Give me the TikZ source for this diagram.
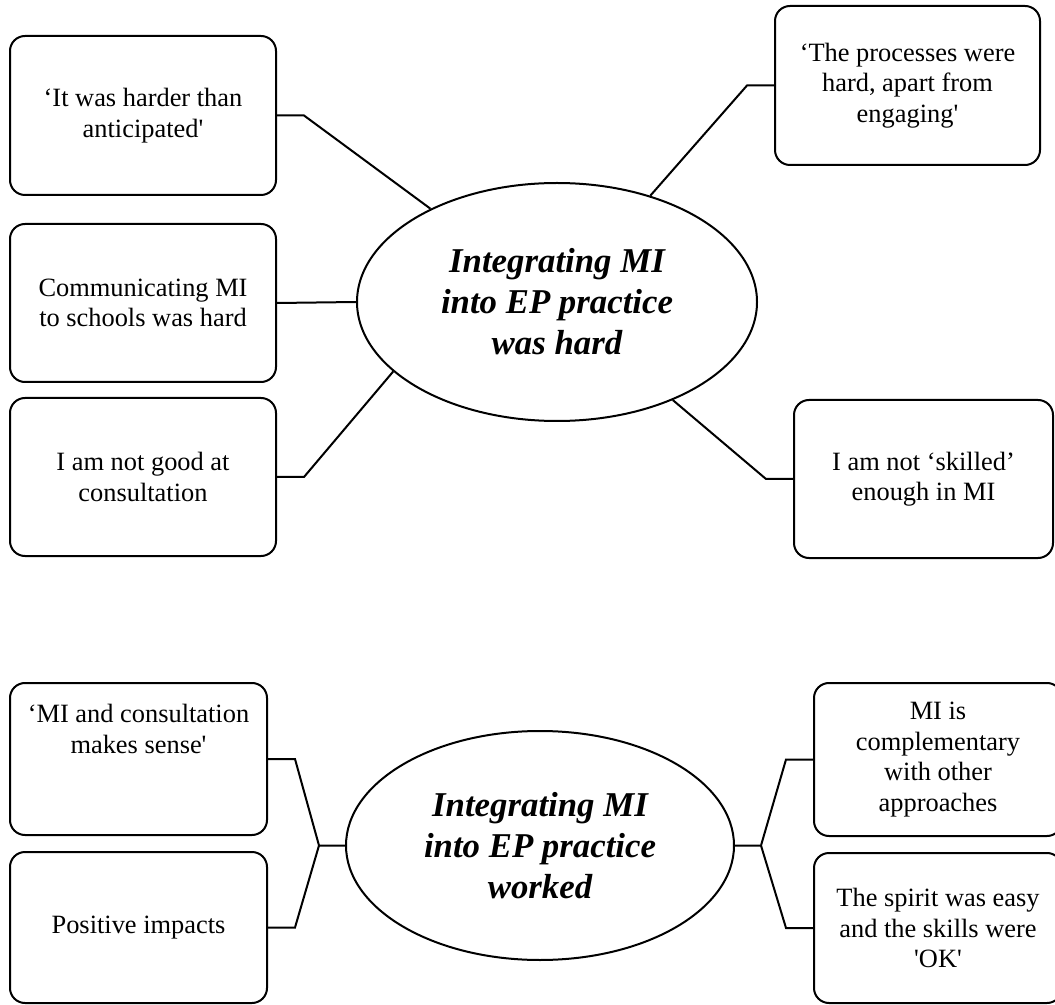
\documentclass[tikz,border=0pt]{standalone}
\usepackage{fontspec}
\setmainfont{Liberation Serif}[Ligatures=TeXOff]
\usepackage{tikz}
\usetikzlibrary{shapes.geometric,calc}

\begin{document}
\begin{tikzpicture}[x=0.5pt,y=-0.5pt,line width=1pt,
	subbox/.style={draw,rounded corners=7.5pt,inner sep=0pt,align=center,minimum width=133pt,minimum height=79pt,font=\fontsize{13.2}{15.2}\selectfont},
	theme/.style={draw,ellipse,inner sep=0pt,align=center,font=\fontsize{17.4}{20.5}\selectfont\bfseries\itshape}]
	\useasboundingbox (0,0) rectangle (1055,1005);
	
	\node[theme,minimum width=200pt,minimum height=119pt] (hard) at (557,302) {Integrating MI\\ into EP practice\\ was hard};
	\node[subbox,minimum height=79.5pt] (b1) at (143,115.5) {‘It was harder than\\ anticipated'};
	\node[subbox] (b2) at (143,303) {Communicating MI\\ to schools was hard};
	\node[subbox] (b3) at (143,477) {I am not good at\\ consultation};
	\node[subbox,minimum width=132.5pt,minimum height=79.5pt] (b4) at (907.5,85.5) {‘The processes were\\ hard, apart from\\ engaging'};
	\node[subbox,minimum width=129.5pt] (b5) at (923.5,479) {I am not ‘skilled’\\ enough in MI};
	
	\draw (b1.east) -- ++(27,0) -- (hard);
	\draw (b2.east) -- (hard.west);
	\draw (b3.east) -- ++(27,0) -- (hard.203);
	\draw (b4.west) -- ++(-27,0) -- (hard);
	\draw (b5.west) -- ++(-27,0) -- (hard);
	
	\node[theme,minimum width=194pt,minimum height=114.5pt] (work) at (540,845.5) {Integrating MI\\ into EP practice\\ worked};
	\node[subbox,minimum width=128.5pt,minimum height=76pt] (b6) at (138.5,759) {};
	\node[align=center,inner sep=0pt,font=\fontsize{13.2}{15.2}\selectfont] (t6) at (138.5,729) {‘MI and consultation\\ makes sense'};
	\node[subbox,minimum width=128.5pt,minimum height=75.5pt] (b7) at (138.5,927.5) {Positive impacts};
	\node[subbox,minimum width=124pt,minimum height=76.5pt] (b8) at (938,759.5) {MI is\\ complementary\\ with other\\ approaches};
	\node[subbox,minimum width=124pt,minimum height=75pt] (b9) at (938,928) {The spirit was easy\\ and the skills were\\ 'OK'};
	
	\coordinate (jl) at ($(work.west)+(-26,0)$);
	\coordinate (jr) at ($(work.east)+(26,0)$);
	\draw (b6.east) -- ++(27,0) -- (jl) -- (work.west);
	\draw (b7.east) -- ++(27,0) -- (jl);
	\draw (b8.west) -- ++(-27,0) -- (jr) -- (work.east);
	\draw (b9.west) -- ++(-27,0) -- (jr);
\end{tikzpicture}
\end{document}
